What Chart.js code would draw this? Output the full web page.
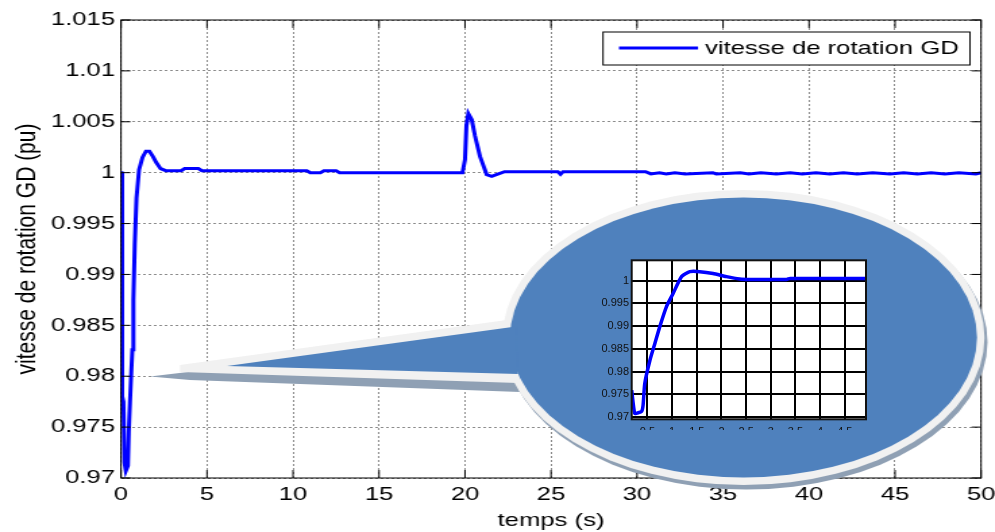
<!DOCTYPE html>
<html>
<head>
<meta charset="utf-8">
<script src="https://cdn.jsdelivr.net/npm/chart.js@4.4.1/dist/chart.umd.min.js"></script>
<style>
html,body{margin:0;padding:0;background:#fff;overflow:hidden;}
#stage{position:relative;width:995px;height:532px;}
/* the main figure is drawn narrow and widened, like the exported plot */
#mainWrap{position:absolute;left:0;top:0;width:737px;height:532px;transform:scaleX(1.35);transform-origin:0 0;}
#zoomCanvas{position:absolute;left:575px;top:250px;}
</style>
</head>
<body>
<div id="stage">
  <div id="mainWrap"><canvas id="speedChart" width="737" height="532"></canvas></div>
  <canvas id="zoomCanvas" width="300" height="180"></canvas>
</div>
<script>
// =====================================
// DATA
// =====================================

const legendLabel = "vitesse de rotation GD";

const xTicks = [0,5,10,15,20,25,30,35,40,45,50];
const yTicks = [0.97,0.975,0.98,0.985,0.99,0.995,1,1.005,1.01,1.015];

// full run, 0 - 50 s
const mainTime = [
  0, 0.03, 0.07, 0.14, 0.2, 0.28, 0.4, 0.45, 0.52, 0.6, 0.66, 0.72, 0.8, 0.9,
  1.05, 1.25, 1.45, 1.65, 1.85, 2.05, 2.3, 2.6, 3.5, 3.7, 4.5, 4.7,
  10.8, 11.0, 11.6, 11.8, 12.5, 12.7, 19.85, 20.0, 20.08, 20.19, 20.39,
  20.58, 20.87, 21.26, 21.55, 21.9, 22.3, 25.4, 25.55, 25.7,
  30.5, 30.8, 31.3, 31.7, 32.2, 32.8, 34.4, 34.6, 36.0, 36.5, 37.2,
  38.1, 38.9, 39.6, 40.4, 41.2, 42.0, 42.8, 43.7, 44.7, 45.5, 46.3,
  47.1, 47.9, 48.7, 49.7, 50
];
const mainSpeed = [
  1.0, 1.0, 0.978, 0.9775, 0.9715, 0.9707, 0.9712, 0.9745, 0.9774, 0.9805, 0.9826, 0.9875, 0.993, 0.9975,
  1.0003, 1.0015, 1.0021, 1.0021, 1.0016, 1.001, 1.0004, 1.0002, 1.0002, 1.0004, 1.0004, 1.0002,
  1.0002, 1.0, 1.0, 1.0002, 1.0002, 1.0, 1.0, 1.0013, 1.0046, 1.0058, 1.0052,
  1.0036, 1.0016, 0.9998, 0.99964, 0.99985, 1.0001, 1.0001, 0.99985, 1.0001,
  1.0001, 0.99988, 1.0, 0.99988, 1.0, 0.99988, 1.0, 0.99988, 1.0, 0.99988, 1.0,
  0.99988, 1.0, 0.99988, 1.0, 0.99988, 1.0, 0.99988, 1.0, 0.99988, 1.0, 0.99988,
  1.0, 0.99988, 1.0, 0.99988, 1.0
];

// zoom on the first seconds
const zoomXTicks = [0.5,1,1.5,2,2.5,3,3.5,4,4.5];
const zoomYTicks = [0.97,0.975,0.98,0.985,0.99,0.995,1];

const zoomTime = [
  0.18, 0.24, 0.3, 0.38, 0.41, 0.445, 0.55, 0.65, 0.75, 0.885, 1.02,
  1.19, 1.36, 1.56, 1.83, 2.1, 2.37, 2.6, 3.32, 3.39, 4.93
];
const zoomSpeed = [
  0.9759, 0.9708, 0.9709, 0.9712, 0.9725, 0.9774, 0.9825, 0.9862, 0.9899, 0.9943, 0.9972,
  1.0009, 1.002, 1.002, 1.0016, 1.0009, 1.0004, 1.0003, 1.0003, 1.0005, 1.0005
];


// =====================================
// HELPERS
// =====================================

const SX = 1.35;
const FONT = "'Liberation Sans', Arial, sans-serif";
const NARROW = "'Liberation Sans Narrow', 'Arial Narrow', 'Liberation Sans', Arial, sans-serif";

Chart.defaults.font.family = FONT;

function fmt(v){
    return String(parseFloat(Number(v).toFixed(3)));
}

function toPoints(xs, ys){
    return xs.map((x,i)=>({x:x, y:ys[i]}));
}

function fillPoly(ctx, pts, color){
    ctx.beginPath();
    pts.forEach((p,i)=>{
        if(i===0) ctx.moveTo(p[0]/SX, p[1]);
        else ctx.lineTo(p[0]/SX, p[1]);
    });
    ctx.closePath();
    ctx.fillStyle = color;
    ctx.fill();
}

function fillEllipse(ctx, cx, cy, rx, ry, color){
    ctx.beginPath();
    ctx.ellipse(cx/SX, cy, rx/SX, ry, 0, 0, Math.PI*2);
    ctx.fillStyle = color;
    ctx.fill();
}


// =====================================
// MAIN CHART DECORATION
// =====================================

const mainDecor = {
    id: "mainDecor",
    afterDatasetsDraw(chart){
        const {ctx, chartArea:a, scales} = chart;
        ctx.save();

        // inward tick marks
        ctx.strokeStyle = "#000";
        ctx.lineWidth = 1;
        ctx.beginPath();
        xTicks.forEach(v=>{
            const x = scales.x.getPixelForValue(v);
            ctx.moveTo(x, a.bottom); ctx.lineTo(x, a.bottom-8);
            ctx.moveTo(x, a.top); ctx.lineTo(x, a.top+8);
        });
        yTicks.forEach(v=>{
            const y = scales.y.getPixelForValue(v);
            ctx.moveTo(a.left, y); ctx.lineTo(a.left+7, y);
            ctx.moveTo(a.right, y); ctx.lineTo(a.right-7, y);
        });
        ctx.stroke();

        // box
        ctx.strokeRect(a.left, a.top, a.right-a.left, a.bottom-a.top);

        // callout bubble: shadow, light rim, blue body
        fillEllipse(ctx, 746.5, 342, 241, 147.5, "#8fa0b4");
        fillPoly(ctx, [[150,376.5],[230,367],[516,332],[520,392],[190,380]], "#8fa0b4");

        fillEllipse(ctx, 743.5, 337.5, 241, 147.5, "#f1f1f1");
        fillPoly(ctx, [[180,365],[514,319],[518,383],[180,372]], "#f1f1f1");

        fillEllipse(ctx, 743.5, 337.5, 233.5, 140, "#4f81bd");
        fillPoly(ctx, [[227,366],[516,326.5],[518,374]], "#4f81bd");

        // legend box
        const lx = 603/SX, rx = 970/SX;
        ctx.fillStyle = "#fff";
        ctx.fillRect(lx, 32, rx-lx, 33);
        ctx.strokeStyle = "#000";
        ctx.lineWidth = 1;
        ctx.strokeRect(lx, 32, rx-lx, 33);

        ctx.strokeStyle = "#0000ff";
        ctx.lineWidth = 3;
        ctx.beginPath();
        ctx.moveTo(619/SX, 48);
        ctx.lineTo(698/SX, 48);
        ctx.stroke();

        ctx.fillStyle = "#000";
        ctx.font = "19px " + FONT;
        ctx.textBaseline = "middle";
        ctx.textAlign = "left";
        ctx.fillText(chart.data.datasets[0].label, 705/SX, 48.5);

        ctx.restore();
    }
};


// =====================================
// MAIN CHART
// =====================================

const speedChart = new Chart(document.getElementById("speedChart"),{

    type:"line",

    data:{
        datasets:[{
            label:legendLabel,
            data:toPoints(mainTime, mainSpeed),
            borderColor:"#0000ff",
            borderWidth:3,
            pointRadius:0,
            tension:0,
            fill:false
        }]
    },

    options:{
        responsive:false,
        animation:false,
        events:[],
        layout:{ padding:{ left:0, right:10.3, top:20, bottom:0 } },
        plugins:{
            legend:{ display:false },
            tooltip:{ enabled:false }
        },
        scales:{
            x:{
                type:"linear",
                min:0,
                max:50,
                afterBuildTicks:s=>{ s.ticks = xTicks.map(v=>({value:v})); },
                afterFit:s=>{ s.height = 54; s.paddingLeft = 0; s.paddingRight = 0; },
                grid:{ color:"#8c8c8c", lineWidth:1, drawTicks:false },
                border:{ display:false, dash:[2,2] },
                ticks:{
                    color:"#000",
                    font:{ size:19 },
                    padding:5,
                    autoSkip:false,
                    maxRotation:0,
                    callback:v=>fmt(v)
                },
                title:{
                    display:true,
                    text:"temps (s)",
                    color:"#000",
                    font:{ size:19 },
                    padding:{ top:0, bottom:0 }
                }
            },
            y:{
                type:"linear",
                min:0.97,
                max:1.015,
                afterBuildTicks:s=>{ s.ticks = yTicks.map(v=>({value:v})); },
                afterFit:s=>{ s.width = 121/SX; s.paddingTop = 0; s.paddingBottom = 0; },
                grid:{ color:"#8c8c8c", lineWidth:1, drawTicks:false },
                border:{ display:false, dash:[2,2] },
                ticks:{
                    color:"#000",
                    font:{ size:19 },
                    padding:4.4,
                    autoSkip:false,
                    callback:v=>fmt(v)
                },
                title:{
                    display:true,
                    text:"vitesse de rotation GD (pu)",
                    color:"#000",
                    font:{ size:21 },
                    padding:{ top:7.5, bottom:0 }
                }
            }
        }
    },

    plugins:[mainDecor]
});


// =====================================
// ZOOM CHART (inside the bubble)
// =====================================

const zoomFrame = {
    id: "zoomFrame",
    beforeDraw(chart){
        const {ctx, chartArea:a} = chart;
        ctx.save();
        ctx.fillStyle = "#fff";
        ctx.fillRect(a.left, a.top, a.right-a.left, a.bottom-a.top);
        ctx.restore();
    },
    afterDraw(chart){
        const {ctx, chartArea:a} = chart;
        ctx.save();
        ctx.strokeStyle = "#111";
        ctx.lineWidth = 2;
        ctx.strokeRect(a.left, a.top, a.right-a.left, a.bottom-a.top);
        ctx.restore();
    }
};

const zoomChart = new Chart(document.getElementById("zoomCanvas"),{

    type:"line",

    data:{
        datasets:[{
            data:toPoints(zoomTime, zoomSpeed),
            borderColor:"#0000ff",
            borderWidth:3.5,
            pointRadius:0,
            tension:0.2,
            fill:false
        }]
    },

    options:{
        responsive:false,
        animation:false,
        events:[],
        layout:{ padding:{ left:0, right:9, top:10.3, bottom:0 } },
        plugins:{
            legend:{ display:false },
            tooltip:{ enabled:false }
        },
        scales:{
            x:{
                type:"linear",
                min:0.18,
                max:4.93,
                afterBuildTicks:s=>{ s.ticks = zoomXTicks.map(v=>({value:v})); },
                afterFit:s=>{ s.height = 10.7; s.paddingLeft = 0; s.paddingRight = 0; },
                grid:{ color:"#000", lineWidth:2, drawTicks:false },
                border:{ display:false },
                ticks:{
                    color:"#111",
                    font:{ size:11, family:NARROW },
                    padding:6,
                    autoSkip:false,
                    maxRotation:0,
                    callback:v=>fmt(v)
                }
            },
            y:{
                type:"linear",
                min:0.9695,
                max:1.0045,
                afterBuildTicks:s=>{ s.ticks = zoomYTicks.map(v=>({value:v})); },
                afterFit:s=>{ s.width = 56.7; s.paddingTop = 0; s.paddingBottom = 0; },
                grid:{ color:"#000", lineWidth:2, drawTicks:false },
                border:{ display:false },
                ticks:{
                    color:"#111",
                    font:{ size:11, family:NARROW },
                    padding:2.7,
                    autoSkip:false,
                    callback:v=>fmt(v)
                }
            }
        }
    },

    plugins:[zoomFrame]
});
</script>
</body>
</html>
